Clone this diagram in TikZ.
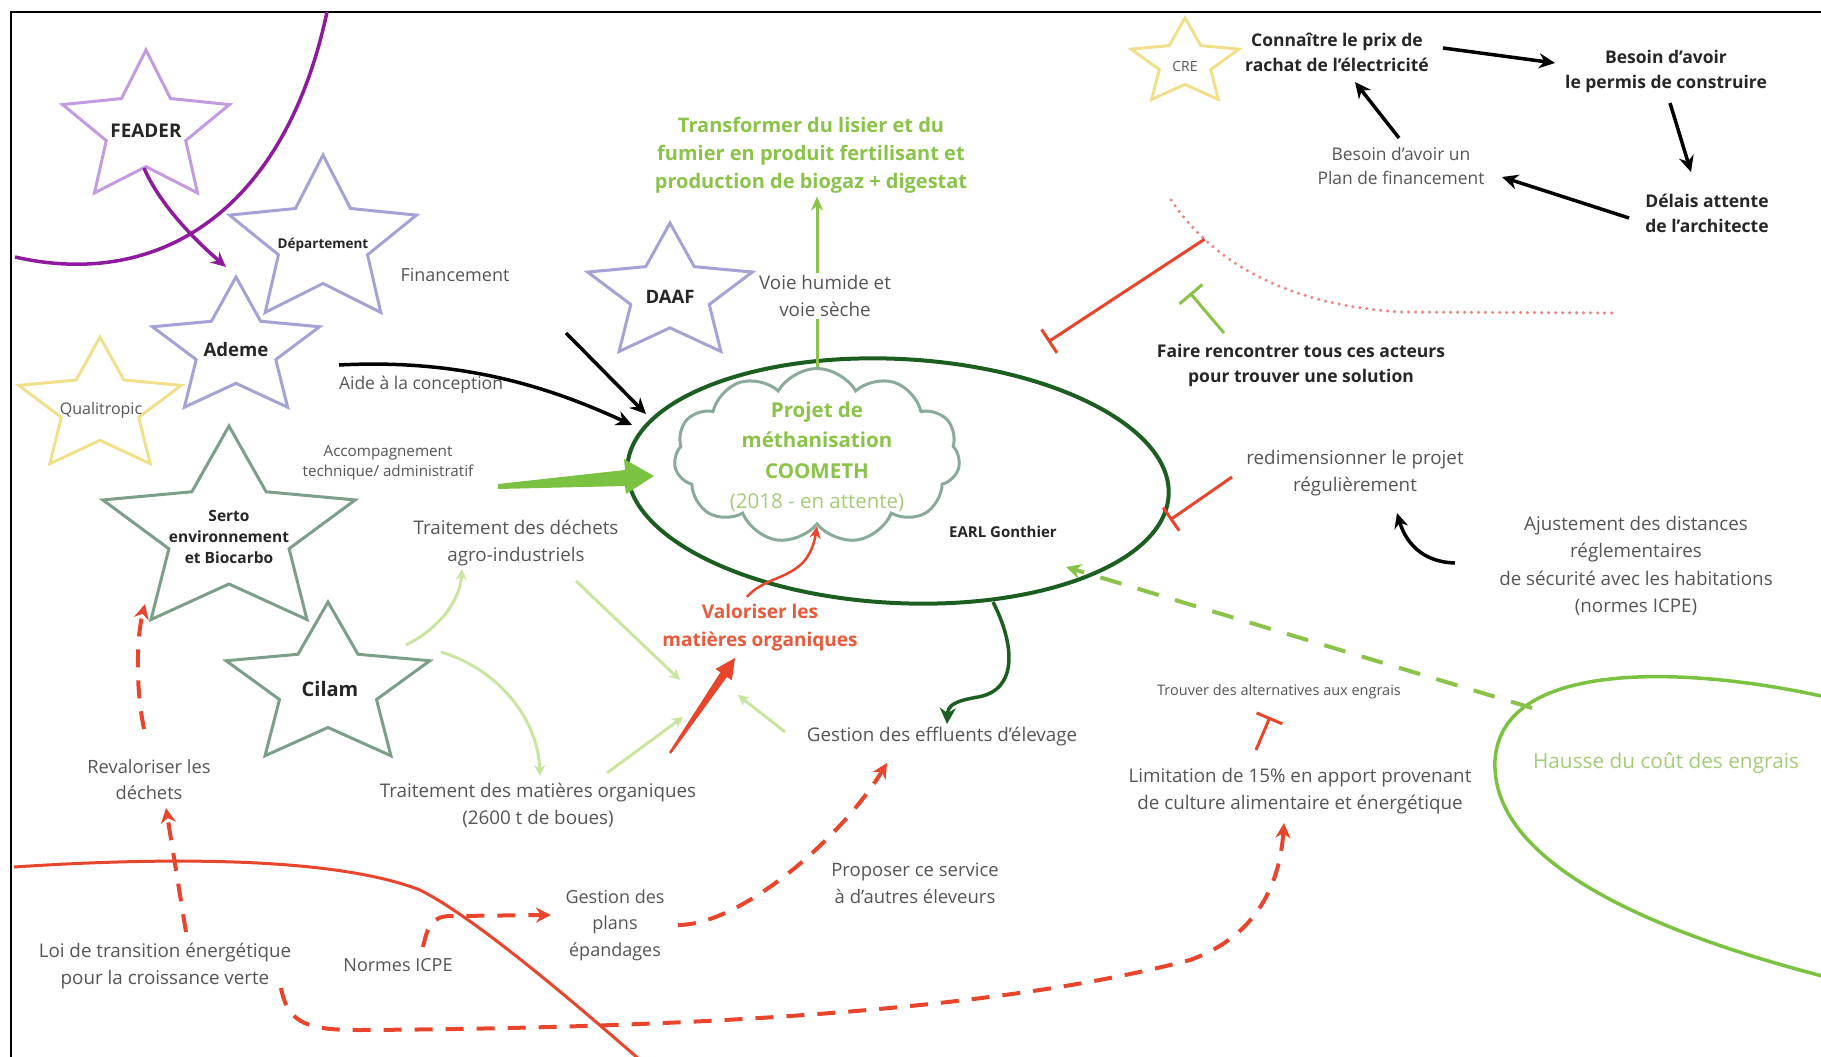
\documentclass[tikz,border=0pt]{standalone}
\usepackage{fontspec}
\setmainfont{Open Sans}
\usetikzlibrary{arrows.meta,calc,shapes.geometric,shapes.symbols}

\definecolor{curvepurple}{HTML}{8E1A9E}
\definecolor{feaderpurple}{HTML}{C39BE0}
\definecolor{lavender}{HTML}{A3A3D6}
\definecolor{staryellow}{HTML}{F0E08C}
\definecolor{stargreen}{HTML}{7D9F8A}
\definecolor{earlgreen}{HTML}{1B5E20}
\definecolor{cloudgrey}{HTML}{8AAA9A}
\definecolor{leaf}{HTML}{8BC34A}
\definecolor{grass}{HTML}{7CC242}
\definecolor{pale}{HTML}{C8E6A0}
\definecolor{brick}{HTML}{E8452C}
\definecolor{dotred}{HTML}{E88A80}
\definecolor{txtgrey}{HTML}{555555}
\definecolor{ink}{HTML}{262626}
\definecolor{haussetxt}{HTML}{A3CC78}
\definecolor{valotxt}{HTML}{E85A3C}

\begin{document}
\begin{tikzpicture}[x=1pt,y=-1pt,
  actor/.style={star,star points=5,star point ratio=2.1,draw=#1,line width=3pt,
    inner sep=0pt,transform shape},
  startext/.style={font=\fontsize{#1}{#1}\selectfont\bfseries,text=ink},
  lbl/.style={font=\fontsize{18.8}{27}\selectfont,text=txtgrey,align=center,inner sep=1pt},
  keylbl/.style={font=\fontsize{17.5}{25}\selectfont\bfseries,text=ink,align=center,inner sep=1pt},
  blackarrow/.style={line width=3.5pt,-{Stealth[length=16pt,width=15pt]}},
  palearrow/.style={line width=3pt,pale,-{Stealth[length=11pt,width=11pt]}},
  redbar/.style={line width=3pt,brick,-{Bar[width=28pt]}},
  reddash/.style={line width=4pt,brick,dash pattern=on 18pt off 13pt,
    -{Stealth[length=15pt,width=15pt]}},
]
\useasboundingbox (0,0) rectangle (1821,1057);
\draw[line width=2.5pt] (11,1057) -- (11,12) -- (1821,12);

% boundary curves
\draw[curvepurple,line width=3.5pt] (327,12) .. controls (285,210) and (160,290) .. (15,257);
\draw[brick,line width=3pt] (14,867) .. controls (150,858) and (330,855) .. (420,890)
  .. controls (470,915) and (560,990) .. (640,1060);
\draw[dotred,line width=3.5pt,line cap=round,dash pattern=on 0pt off 7pt]
  (1171,200) .. controls (1215,265) and (1290,305) .. (1400,312)
  coordinate[pos=0.22] (dotcross) -- (1614,313);
\draw[grass,line width=3.5pt] (1830,698) .. controls (1700,668) and (1502,655) .. (1495,760)
  .. controls (1490,862) and (1650,932) .. (1830,978);

% actors
\node[actor=feaderpurple,xscale=1.11,minimum size=158pt] (feader) at (146,129) {};
\node[actor=lavender,xscale=1.13,minimum size=174pt] (dept) at (323,242) {};
\node[actor=lavender,xscale=1.22,minimum size=144pt] (ademe) at (236,349) {};
\node[actor=staryellow,xscale=1.22,minimum size=140pt] (qualitropic) at (100,407) {};
\node[actor=stargreen,xscale=1.24,minimum size=214pt] (serto) at (229,533) {};
\node[actor=stargreen,xscale=1.26,minimum size=170pt] (cilam) at (328,687) {};
\node[actor=lavender,xscale=1.22,minimum size=142pt] (daaf) at (670,294) {};
\node[actor=staryellow,xscale=1.26,minimum size=90pt] (cre) at (1185,63) {};

\node[startext=18.9] (feadertxt) at (146,131) {FEADER};
\node[startext=13.5] (depttxt) at (323,245) {Département};
\node[startext=18.6] (ademetxt) at (236,350) {Ademe};
\node[font=\fontsize{16}{16}\selectfont,text=txtgrey] (qualitropictxt) at (101,410) {Qualitropic};
\node[text=ink,align=center,font=\fontsize{15.5}{21}\selectfont\bfseries] (sertotxt)
  at (229,537) {Serto\\environnement\\et Biocarbo};
\node[startext=20] (cilamtxt) at (330,689) {Cilam};
\node[startext=18.5] (daaftxt) at (670,297) {DAAF};
\node[font=\fontsize{14}{14}\selectfont,text=txtgrey] (cretxt) at (1185,67) {CRE};

% project
\node[draw=earlgreen,line width=4pt,ellipse,minimum width=542pt,minimum height=244pt,
  inner sep=0pt,rotate=-3] (earl) at (898,481) {};
\node[cloud,cloud puffs=11,cloud puff arc=120,aspect=1.6,draw=cloudgrey,line width=3pt,
  minimum width=286pt,minimum height=175pt,inner sep=0pt] (cloud) at (817,456) {};
\node[align=center,text=leaf,font=\fontsize{20.5}{30.5}\selectfont\bfseries] (projet)
  at (817,457) {Projet de\\méthanisation\\COOMETH\\{\mdseries\color{haussetxt}(2018 - en attente)}};
\node[startext=15] (earltxt) at (1003,532) {EARL Gonthier};
\node[align=center,text=leaf,font=\fontsize{20}{28}\selectfont\bfseries] (title)
  at (811,155) {Transformer du lisier et du\\fumier en produit fertilisant et\\production de biogaz + digestat};
\draw[line width=3pt,leaf,-{Stealth[length=14pt,width=12pt]}]
  (cloud.north) -- (cloud.north |- title.south);
\node[lbl,fill=white,inner sep=2pt] (voie) at (825,296) {Voie humide et\\voie sèche};

% labels
\node[lbl,font=\fontsize{18}{27}\selectfont] (financement) at (455,275) {Financement};
\node[lbl,font=\fontsize{17.5}{27}\selectfont] (aide) at (421,385) {Aide à la conception};
\node[lbl,font=\fontsize{15.2}{20}\selectfont] (accomp) at (388,463)
  {Accompagnement\\technique/ administratif};
\node[lbl] (dechets) at (516,543) {Traitement des déchets\\agro-industriels};
\node[lbl] (matorg) at (538,805) {Traitement des matières organiques\\(2600 t de boues)};
\node[align=center,text=valotxt,font=\fontsize{19}{28}\selectfont\bfseries] (valoriser)
  at (760,628) {Valoriser les\\matières organiques};
\node[lbl] (effluents) at (942,737) {Gestion des effluents d'élevage};
\node[keylbl] (faire) at (1301,365) {Faire rencontrer tous ces acteurs\\pour trouver une solution};
\node[lbl] (redim) at (1355,473) {redimensionner le projet\\régulièrement};
\node[lbl,font=\fontsize{18.8}{27.5}\selectfont] (ajust) at (1636,566)
  {Ajustement des distances\\réglementaires\\de sécurité avec les habitations\\(normes ICPE)};
\node[keylbl] (connaitre) at (1337,52) {Connaître le prix de\\rachat de l'électricité};
\node[keylbl] (permis) at (1666,71) {Besoin d'avoir\\le permis de construire};
\node[keylbl] (delais) at (1707,213) {Délais attente\\de l'architecte};
\node[lbl,font=\fontsize{17.4}{24}\selectfont] (plan) at (1401,166)
  {Besoin d'avoir un\\Plan de financement};
\node[lbl,font=\fontsize{14.5}{18}\selectfont] (trouver) at (1279,692)
  {Trouver des alternatives aux engrais};
\node[lbl] (limitation) at (1300,791)
  {Limitation de 15\% en apport provenant\\de culture alimentaire et énergétique};
\node[font=\fontsize{20.8}{24}\selectfont,text=haussetxt] (hausse) at (1666,763)
  {Hausse du coût des engrais};
\node[lbl,font=\fontsize{18}{26.5}\selectfont] (gestplans) at (615,925)
  {Gestion des\\plans\\épandages};
\node[lbl,font=\fontsize{18.5}{27}\selectfont] (proposer) at (915,883)
  {Proposer ce service\\à d'autres éleveurs};
\node[lbl] (loi) at (165,966) {Loi de transition énergétique\\pour la croissance verte};
\node[lbl,font=\fontsize{18.3}{26}\selectfont] (revaloriser) at (149,780)
  {Revaloriser les\\déchets};
\node[lbl,font=\fontsize{18}{26}\selectfont] (normes) at (398,965) {Normes ICPE};

% funding and support
\draw[line width=3.5pt,curvepurple,-{Stealth[length=15pt,width=14pt]}]
  ($(feader)+(-2,39)$) .. controls (160,205) and (195,240) .. ($(ademe)+(-10,-82)$);
\coordinate (finstart) at (566,333);
\draw[blackarrow] ($(aide)+(-82,-20)$) .. controls (470,358) and (560,392) .. ($(earl)+(-266,-56)$);
\draw[blackarrow] (finstart) -- ($(earl)+(-252,-67)$);
\fill[grass] (498,484) -- (625,470) -- (624,459) -- (654,476) -- (626,494) -- (625,486)
  -- (498,489) -- cycle;

% organic matter
\draw[palearrow] ($(cilam)+(78,-42)$) .. controls (440,628) and (460,600) .. ($(dechets)+(-54,26)$);
\draw[palearrow] ($(cilam)+(113,-35)$) .. controls (500,670) and (538,720) .. ($(matorg)+(2,-29)$);
\draw[palearrow] ($(dechets)+(60,38)$) -- ($(valoriser)+(-80,52)$);
\draw[palearrow] ($(matorg)+(69,-32)$) -- ($(valoriser)+(-77,89)$);
\draw[palearrow] ($(effluents)+(-157,-5)$) -- ($(valoriser)+(-22,67)$);
\fill[brick] (669,752.3) -- (720.4,672.3) -- (715.5,669) -- (735,658) -- (731.9,680.3)
  -- (727,676.9) -- (671,753.7) -- cycle;
\draw[line width=2.5pt,brick,-{Stealth[length=12pt,width=11pt]}]
  ($(valoriser)+(-13,-31)$) .. controls (768,572) and (808,582) .. (cloud.south);
\draw[line width=3.5pt,earlgreen,-{Stealth[length=16pt,width=16pt]}]
  ($(earl)+(95,121)$) .. controls (1015,645) and (1018,690) .. (978,697)
  .. controls (955,701) and (948,705) .. ($(effluents)+(5,-13)$);

% obstacles
\draw[redbar] (dotcross) -- ($(earl)+(150,-139)$);
\draw[line width=3pt,leaf,-{Bar[width=30pt]}] ($(faire)+(-77,-32)$) -- ($(faire)+(-111,-72)$);
\draw[redbar] ($(redim)+(-123,4)$) -- ($(earl)+(272,39)$);
\draw[redbar] ($(limitation)+(-44,-41)$) -- ($(trouver)+(-9,25)$);
\draw[line width=3.5pt,-{Stealth[length=15pt,width=14pt]}]
  ($(ajust)+(-181,-3)$) .. controls (1420,562) and (1405,540) .. ($(redim)+(42,40)$);
\draw[blackarrow] ($(connaitre)+(106,-4)$) -- ($(permis)+(-111,-8)$);
\draw[blackarrow] ($(permis)+(4,32)$) -- ($(delais)+(-16,-41)$);
\draw[blackarrow] ($(delais)+(-78,5)$) -- ($(plan)+(101,11)$);
\draw[blackarrow] ($(plan)+(-2,-28)$) -- ($(connaitre)+(18,30)$);
\draw[line width=4pt,leaf,dash pattern=on 22pt off 17pt,-{Stealth[length=15pt,width=15pt]}]
  ($(hausse)+(-134,-55)$) -- ($(earl)+(168,86)$);

% regulations
\draw[reddash] ($(loi)+(21,-34)$) -- ($(revaloriser)+(17,28)$);
\draw[reddash] ($(revaloriser)+(-5,-51)$) .. controls (136,690) and (136,640) .. ($(serto)+(-84,71)$);
\draw[reddash] ($(normes)+(25,-18)$) .. controls (428,925) and (432,916) .. (452,916)
  -- ($(gestplans)+(-64,-10)$);
\draw[reddash] ($(gestplans)+(63,0)$) .. controls (740,925) and (840,840) .. ($(effluents)+(-55,26)$);
\draw[reddash] ($(loi)+(116,22)$) .. controls (288,1025) and (310,1030) .. (360,1030)
  .. controls (700,1028) and (1000,1010) .. (1190,960)
  .. controls (1260,935) and (1280,880) .. ($(limitation)+(-16,32)$);
\end{tikzpicture}
\end{document}
